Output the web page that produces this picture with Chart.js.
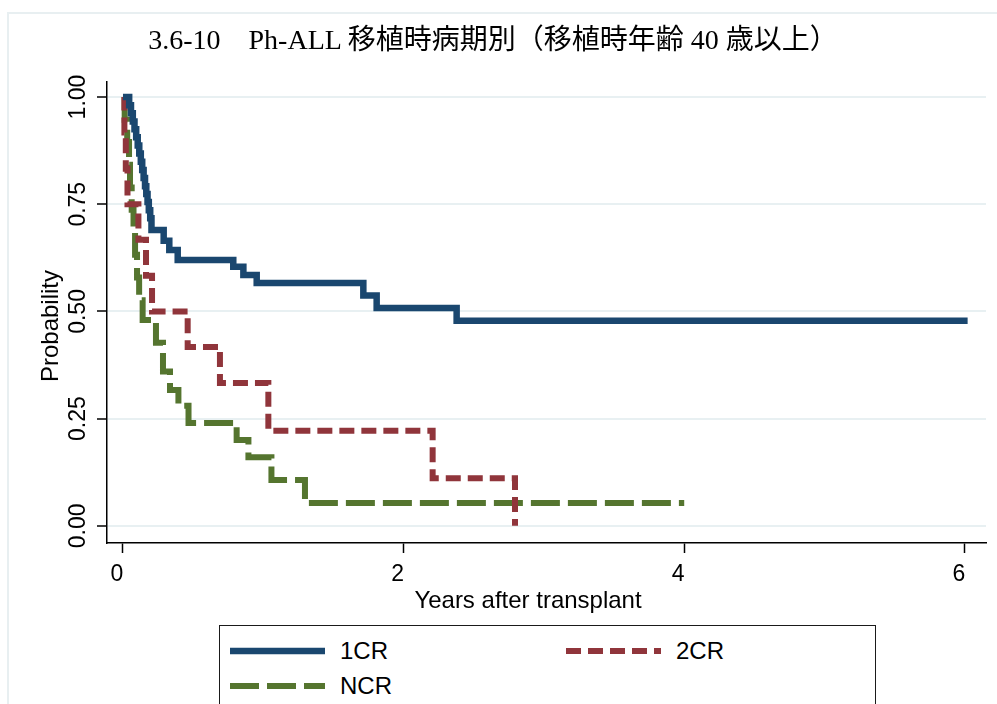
<!DOCTYPE html>
<html>
<head>
<meta charset="utf-8">
<script src="https://cdn.jsdelivr.net/npm/chart.js@4.4.0/dist/chart.umd.min.js"></script>
<style>
  html, body { margin: 0; padding: 0; background: #fff; }
  #wrap { position: relative; width: 997px; height: 704px; overflow: hidden; }
  #frame { position: absolute; left: 7px; top: 12px; width: 1000px; height: 700px;
    border-left: 2px solid #e8eff1; border-top: 2px solid #e8eff1; }
  #title { position: absolute; left: 0; top: 24px; width: 986px; text-align: center;
    font: 28px "Liberation Serif", "Noto Sans CJK JP", serif; line-height: 32px; color: #000; }
  .achse { position: absolute; font: 24px "Liberation Sans", Arial, sans-serif; color: #000;
    line-height: 28px; white-space: nowrap; }
  #xtitel { left: 328px; width: 400px; top: 586px; text-align: center; }
  #ytitel { left: -150px; width: 400px; top: 312px; text-align: center; transform: rotate(-90deg); }
  #legend { position: absolute; left: 219px; top: 625px; width: 657px; height: 110px;
    border: 1.5px solid #1a1a1a; box-sizing: border-box; display: grid;
    grid-template-columns: 336px auto; grid-auto-rows: 35px; padding: 7px 0 0 10px;
    font: 24px "Liberation Sans", Arial, sans-serif; color: #000; background: #fff; }
  .item { display: flex; align-items: center; }
  .item svg { margin-right: 15px; }
  canvas { position: absolute; left: 0; top: 0; }
</style>
</head>
<body>
<div id="wrap">
  <div id="frame"></div>
  <canvas id="km" width="997" height="704"></canvas>
  <div id="title">3.6-10　Ph-ALL 移植時病期別（移植時年齢 40 歳以上）</div>
  <div id="xtitel" class="achse">Years after transplant</div>
  <div id="ytitel" class="achse">Probability</div>
  <div id="legend"></div>
</div>
<script>
// Kaplan-Meier curves
const seriesNames = ["1CR", "2CR", "NCR"];

const cr1Years = [0, 0.044, 0.057, 0.07, 0.082, 0.094, 0.105, 0.116, 0.127, 0.137, 0.147, 0.157, 0.166, 0.175, 0.184, 0.194, 0.203, 0.29, 0.33, 0.39, 0.786, 0.858, 0.953, 1.713, 1.808, 2.378, 6.02];
const cr1Prob  = [1, 0.981, 0.962, 0.943, 0.925, 0.906, 0.887, 0.868, 0.849, 0.830, 0.811, 0.792, 0.774, 0.755, 0.736, 0.717, 0.69, 0.665, 0.643, 0.62, 0.604, 0.585, 0.566, 0.537, 0.508, 0.478, 0.478];

const cr2Years = [0, 0.01, 0.02, 0.032, 0.11, 0.164, 0.207, 0.461, 0.691, 1.036, 2.207, 2.794];
const cr2Prob  = [1, 0.917, 0.833, 0.75, 0.667, 0.583, 0.5, 0.417, 0.333, 0.222, 0.111, 0];

const ncrYears = [0, 0.012, 0.03, 0.043, 0.05, 0.062, 0.075, 0.086, 0.1, 0.115, 0.14, 0.235, 0.285, 0.335, 0.395, 0.467, 0.81, 0.894, 1.058, 1.297, 4.0];
const ncrProb  = [1, 0.947, 0.895, 0.842, 0.789, 0.737, 0.684, 0.632, 0.579, 0.526, 0.48, 0.427, 0.36, 0.317, 0.28, 0.24, 0.2, 0.16, 0.107, 0.053, 0.053];

const xTicks = [0, 2, 4, 6];
const xTickLabels = ["0", "2", "4", "6"];
const yTicks = [0, 0.25, 0.5, 0.75, 1];
const yTickLabels = ["0.00", "0.25", "0.50", "0.75", "1.00"];

const FONT = "'Liberation Sans', Arial, sans-serif";

function punkte(xs, ys) {
  return xs.map((x, i) => ({ x: x, y: ys[i] }));
}

const datasets = [
  { label: seriesNames[0], data: punkte(cr1Years, cr1Prob), borderColor: "#1a476f", borderWidth: 6.5, borderDash: [] },
  { label: seriesNames[1], data: punkte(cr2Years, cr2Prob), borderColor: "#90353b", borderWidth: 6, borderDash: [15, 7] },
  { label: seriesNames[2], data: punkte(ncrYears, ncrProb), borderColor: "#55752f", borderWidth: 6, borderDash: [29, 8] },
].map(d => Object.assign(d, { stepped: true, pointRadius: 0, fill: false, borderCapStyle: "butt", borderJoinStyle: "miter" }));

const chart = new Chart(document.getElementById("km"), {
  type: "line",
  data: { datasets },
  options: {
    responsive: false,
    animation: false,
    layout: { padding: { top: 82, right: 11, left: 0, bottom: 0 } },
    plugins: { legend: { display: false }, title: { display: false }, tooltip: { enabled: false } },
    scales: {
      x: {
        type: "linear",
        min: -0.114,
        max: 6.151,
        afterBuildTicks: s => { s.ticks = xTicks.map(v => ({ value: v })); },
        afterFit: s => { s.height = 161; },
        ticks: {
          font: { family: FONT, size: 23 }, color: "#000", padding: 8, labelOffset: -6,
          maxRotation: 0, autoSkip: false,
          callback: (v, i) => xTickLabels[i]
        },
        grid: { drawOnChartArea: false, tickLength: 10, tickColor: "#000", tickWidth: 1.5 },
        border: { color: "#000", width: 1.5 },
        title: { display: false }
      },
      y: {
        type: "linear",
        min: -0.04,
        max: 1.035,
        afterBuildTicks: s => { s.ticks = yTicks.map(v => ({ value: v })); },
        afterFit: s => { s.width = 107; },
        ticks: {
          font: { family: FONT, size: 23 }, color: "#000", padding: -4,
          minRotation: 90, maxRotation: 90, crossAlign: "center", autoSkip: false,
          callback: (v, i) => yTickLabels[i]
        },
        grid: { color: "#e8f0f2", lineWidth: 2, tickLength: 10, tickColor: "#000", tickWidth: 1.5 },
        border: { color: "#000", width: 1.5 },
        title: { display: false }
      }
    }
  }
});

// Legende als HTML, aus den Datensätzen gebaut
const legende = document.getElementById("legend");
chart.data.datasets.forEach(ds => {
  const item = document.createElement("div");
  item.className = "item";
  const dash = ds.borderDash.length ? ds.borderDash.join(" ") : "none";
  item.innerHTML = `
    <svg width="95" height="10"><line x1="0" y1="5" x2="95" y2="5" stroke="${ds.borderColor}"
      stroke-width="${ds.borderWidth}" stroke-dasharray="${dash}"/></svg>
    <span>${ds.label}</span>`;
  legende.appendChild(item);
});
</script>
</body>
</html>
